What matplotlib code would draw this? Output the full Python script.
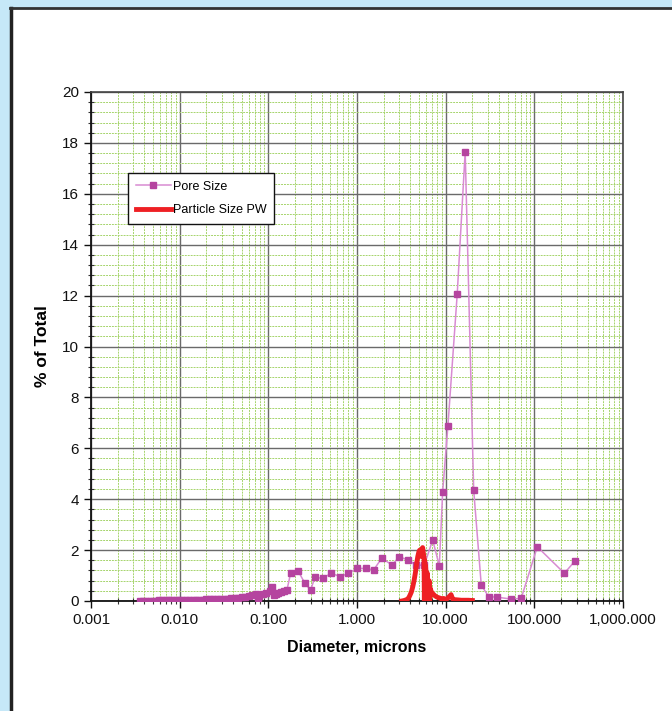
import numpy as np
import matplotlib
matplotlib.use('Agg')
import matplotlib.pyplot as plt
from matplotlib.patches import Rectangle
from matplotlib.lines import Line2D
from matplotlib.ticker import FixedLocator, LogLocator, MultipleLocator, NullFormatter

plt.rcParams['font.family'] = ['Liberation Sans', 'DejaVu Sans']

# pore size distribution (diameter in microns, % of total)
pore_d = [0.0036, 0.0039, 0.0042, 0.0046, 0.0050, 0.0054, 0.0059, 0.0064, 0.0070,
          0.0076, 0.0083, 0.0090, 0.0098, 0.0107, 0.0117, 0.0128, 0.0140, 0.0153,
          0.0167, 0.0183, 0.0200, 0.0219, 0.0240, 0.0263, 0.0288, 0.0316, 0.0346,
          0.0380, 0.0416, 0.0456, 0.0500, 0.0548, 0.0601, 0.0659, 0.0722, 0.0760,
          0.0792, 0.0868, 0.0951, 0.1043, 0.109, 0.116, 0.123, 0.130, 0.140, 0.150,
          0.162,
          0.179, 0.216, 0.259, 0.300, 0.335, 0.41, 0.51, 0.65, 0.80, 1.00, 1.26,
          1.54, 1.90, 2.50, 2.98, 3.78, 4.63, 5.74, 7.14, 8.48, 9.25, 10.6, 13.5,
          16.6, 20.7, 25.2, 30.5, 37.9, 54.0, 71.0, 108.0, 218.0, 287.0]
pore_pct = [0.00, 0.00, 0.01, 0.01, 0.01, 0.01, 0.02, 0.02, 0.02,
            0.02, 0.03, 0.03, 0.03, 0.03, 0.04, 0.04, 0.04, 0.05,
            0.05, 0.05, 0.06, 0.06, 0.07, 0.07, 0.08, 0.08, 0.09,
            0.10, 0.11, 0.12, 0.14, 0.16, 0.19, 0.22, 0.26, 0.13,
            0.20, 0.27, 0.32, 0.40, 0.54, 0.25, 0.28, 0.30, 0.35, 0.40,
            0.43,
            1.11, 1.19, 0.69, 0.43, 0.93, 0.89, 1.09, 0.96, 1.09, 1.28, 1.28,
            1.22, 1.68, 1.41, 1.74, 1.61, 1.41, 1.41, 2.40, 1.38, 4.30, 6.88, 12.06,
            17.66, 4.36, 0.63, 0.17, 0.15, 0.08, 0.10, 2.13, 1.09, 1.57]

# particle size distribution PW
part_d = [3.2, 3.4, 3.6, 3.8, 3.95, 4.1, 4.25, 4.4, 4.55, 4.7, 4.85, 5.0, 5.1, 5.2,
          5.3, 5.4, 5.5, 5.6, 5.7, 5.75, 5.8, 5.85, 5.9, 6.0, 6.1, 6.2, 6.35, 6.5,
          6.6, 6.7, 6.9, 7.2, 7.6, 8.0, 8.5, 9.0, 9.5, 10.0, 10.5, 11.0, 11.5, 12.0,
          12.5, 13.0, 14.0, 15.0, 16.5, 18.0, 20.0]
part_pct = [0.00, 0.02, 0.05, 0.10, 0.22, 0.35, 0.55, 0.80, 1.10, 1.45, 1.75, 1.95,
            2.00, 1.80, 1.75, 2.05, 2.10, 1.90, 1.70, 0.00, 1.60, 0.00, 1.40, 1.20,
            0.00, 1.10, 0.00, 0.80, 0.00, 0.50, 0.35, 0.28, 0.20, 0.15, 0.12, 0.08,
            0.10, 0.05, 0.10, 0.18, 0.25, 0.08, 0.05, 0.05, 0.04, 0.03, 0.03, 0.03,
            0.02]

xticks = [0.001, 0.01, 0.1, 1, 10, 100, 1000]
xticklabels = ['0.001', '0.010', '0.100', '1.000', '10.000', '100.000', '1,000.000']

fig = plt.figure(figsize=(6.72, 7.11), dpi=100)
fig.patch.set_facecolor('#c6e8f8')
# white panel with dark border on left and top
fig.patches.append(Rectangle((11/672, 0), 1, 1 - 9/711, transform=fig.transFigure,
                             facecolor='white', edgecolor='none', zorder=-2))
fig.add_artist(Line2D([11/672, 11/672], [0, 1 - 8/711], transform=fig.transFigure,
                      color='#222222', lw=2.5, zorder=-1))
fig.add_artist(Line2D([10/672, 1], [1 - 8/711, 1 - 8/711], transform=fig.transFigure,
                      color='#333333', lw=2, zorder=-1))

ax = fig.add_axes([91/672, 1 - 601/711, 532/672, 509/711])
ax.set_facecolor('white')
ax.set_xscale('log')
ax.set_xlim(0.001, 1000)
ax.set_ylim(0, 20)

ax.xaxis.set_major_locator(FixedLocator(xticks))
ax.set_xticklabels(xticklabels)
ax.xaxis.set_minor_locator(LogLocator(base=10, subs=np.arange(2, 10)))
ax.xaxis.set_minor_formatter(NullFormatter())
ax.yaxis.set_major_locator(MultipleLocator(2))
ax.yaxis.set_minor_locator(MultipleLocator(0.4))

ax.grid(which='minor', color='#a6d46c', lw=0.7, ls=(0, (2, 1)))
ax.grid(which='major', color='#6a6a6a', lw=1.0)
ax.set_axisbelow(True)

ax.plot(pore_d, pore_pct, color='#d88bd2', lw=1.1, marker='s', markersize=4.5,
        markerfacecolor='#b5449f', markeredgecolor='#b5449f', label='Pore Size', zorder=3)
ax.plot(part_d, part_pct, color='#ee2024', lw=3.5, label='Particle Size PW', zorder=4)

for side in ['left', 'bottom']:
    ax.spines[side].set_color('#111111')
    ax.spines[side].set_linewidth(1.3)
for side in ['top', 'right']:
    ax.spines[side].set_color('#444444')
    ax.spines[side].set_linewidth(1.2)

ax.tick_params(axis='both', which='major', direction='out', length=5, width=1,
               labelsize=11, colors='#111111')
ax.tick_params(axis='both', which='minor', direction='inout', length=4, width=0.8,
               colors='#333333')
ax.tick_params(axis='x', pad=4)

ax.set_xlabel('Diameter, microns', fontsize=11.5, fontweight='bold', labelpad=9)
ax.set_ylabel('% of Total', fontsize=12.5, fontweight='bold', labelpad=9)

leg = ax.legend(loc='upper left', bbox_to_anchor=(37/532, (601 - 173)/509),
                borderaxespad=0, fontsize=9, frameon=True, fancybox=False,
                handlelength=2.8, borderpad=0.6, labelspacing=0.95, handletextpad=0.2)
leg.get_frame().set_edgecolor('#111111')
leg.get_frame().set_linewidth(1.0)
leg.get_frame().set_alpha(1)

fig.savefig('out.png', dpi=100, facecolor=fig.get_facecolor())
